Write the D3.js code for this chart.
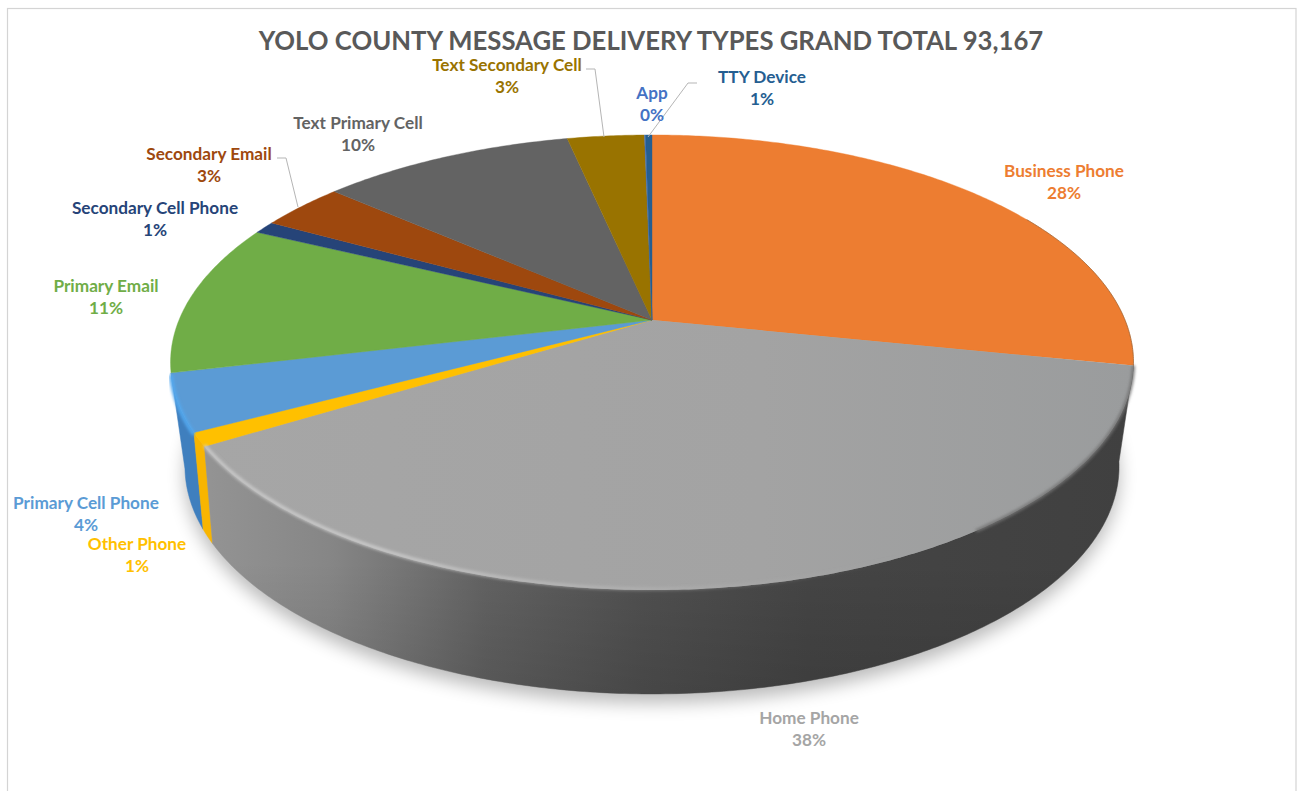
<!DOCTYPE html>
<html>
<head>
<meta charset="utf-8">
<script src="https://cdnjs.cloudflare.com/ajax/libs/d3/7.8.5/d3.min.js"></script>
<style>
  html, body { margin: 0; padding: 0; background: #fff; overflow: hidden; }
  text { font-family: Lato, "Open Sans", sans-serif; font-weight: 700; }
</style>
</head>
<body>
<svg id="chart"></svg>
<script>
const svgWidth = 1300;
const svgHeight = 791;

const chart_title = "YOLO COUNTY MESSAGE DELIVERY TYPES GRAND TOTAL 93,167";
const categories = ["Business Phone", "Home Phone", "Other Phone", "Primary Cell Phone", "Primary Email",
    "Secondary Cell Phone", "Secondary Email", "Text Primary Cell", "Text Secondary Cell", "App", "TTY Device"];
// slice shares, printed labels are what the chart says
const shares = [28.2, 38.1, 0.95, 4.05, 10.8, 0.9, 3.4, 10.2, 3.1, 0.04, 0.26];
const pct_labels = ["28%", "38%", "1%", "4%", "11%", "1%", "3%", "10%", "3%", "0%", "1%"];
const colors = ["#ED7D31", "#A5A5A5", "#FFC000", "#5B9BD5", "#70AD47",
    "#264478", "#9E480E", "#636363", "#997300", "#4472C4", "#255E91"];

// where each label sits: center x, first baseline
const label_pos = [[1064, 177], [809, 724], [137, 550], [86, 509], [106, 292],
    [155, 214], [209, 160], [358, 129], [507, 71], [652, 99], [762, 83]];
const leaders = [
    [[277, 158], [286, 158], [298, 207]],
    [[586, 69], [595, 69], [604, 137]],
    [[697, 83], [688, 83], [648, 137]]
];

// perspective circle for top face and for the bottom rim
const top_rim = { cx: 652, cy: 320, R: 473, b: 219.6, k: 0.1868 };
const bottom_rim = { cx: 652, cy: 416.4, R: 455.6, b: 216.5, k: 0.22 };

let project = (rim, a) => {
    let x = Math.sin(a), y = -Math.cos(a);
    let s = 1 / (1 - rim.k * y);
    return [rim.cx + rim.R * x * s, rim.cy + rim.b * y * s];
};

let arcPoints = (rim, a0, a1) => {
    let n = Math.max(2, Math.ceil(Math.abs(a1 - a0) / 0.01));
    return d3.range(n + 1).map(i => project(rim, a0 + (a1 - a0) * i / n));
};

const line = d3.line();
const deg = Math.PI / 180;

const svg = d3.select('#chart').attr('width', svgWidth).attr('height', svgHeight)
    .style('display', 'block');
const defs = svg.append('defs');

defs.append('filter').attr('id', 'shadow').attr('x', '-10%').attr('y', '-10%').attr('width', '120%').attr('height', '120%')
    .append('feGaussianBlur').attr('stdDeviation', 9);
defs.append('filter').attr('id', 'soft').attr('x', '-5%').attr('y', '-5%').attr('width', '110%').attr('height', '110%')
    .append('feGaussianBlur').attr('stdDeviation', 1.4);
defs.append('filter').attr('id', 'edge').attr('x', '-5%').attr('y', '-5%').attr('width', '110%').attr('height', '110%')
    .append('feGaussianBlur').attr('stdDeviation', 0.4);

let hGradient = (id, x1, x2, stops) => {
    let g = defs.append('linearGradient').attr('id', id).attr('gradientUnits', 'userSpaceOnUse')
        .attr('x1', x1).attr('x2', x2).attr('y1', 0).attr('y2', 0);
    stops.forEach(s => g.append('stop').attr('offset', s[0]).attr('stop-color', s[1]).attr('stop-opacity', s[2] === undefined ? 1 : s[2]));
};
hGradient('homeWall', 210, 1130, [[0, '#939393'], [0.13, '#868686'], [0.3, '#626262'], [0.47, '#505050'], [0.65, '#454545'], [1, '#404040']]);
hGradient('homeTop', 200, 1134, [[0, '#a6a6a6'], [0.6, '#a3a3a3'], [1, '#9a9c9d']]);
hGradient('homeLight', 205, 900, [[0, '#d0d0d0', 0.8], [0.25, '#d4d4d4', 0.8], [0.6, '#c0c0c0', 0.45], [1, '#a5a5a5', 0]]);

svg.append('rect').attr('x', 7.5).attr('y', 8.5).attr('width', 1288.5).attr('height', 800)
    .attr('fill', '#fff').attr('stroke', '#d4d4d4').attr('stroke-width', 1.2);

const pie = d3.pie().sort(null).value(d => d)(shares);

// soft shadow under the disc
svg.append('path')
    .attr('d', line(arcPoints(bottom_rim, 0, 2 * Math.PI)) + 'Z')
    .attr('transform', 'translate(0,9)')
    .attr('fill', '#000').attr('opacity', 0.27)
    .attr('filter', 'url(#shadow)');

// side wall: only the front slices show
const wall_fill = { 1: 'url(#homeWall)', 2: '#F8B500', 3: '#3F7FBE' };
[3, 2, 1].forEach(i => {
    let a0 = pie[i].startAngle, a1 = pie[i].endAngle;
    let pts = arcPoints(top_rim, a0, a1).concat(arcPoints(bottom_rim, a1, a0));
    svg.append('path').attr('d', line(pts) + 'Z').attr('fill', wall_fill[i])
        .attr('stroke', wall_fill[i]).attr('stroke-width', 0.5);
});

// wall darkening towards the bottom rim
let wallBottom = arcPoints(top_rim, pie[1].startAngle, pie[1].endAngle).concat(arcPoints(bottom_rim, pie[1].endAngle, pie[1].startAngle));
defs.append('linearGradient').attr('id', 'wallShade').attr('x1', 0).attr('x2', 0).attr('y1', 0).attr('y2', 1)
    .selectAll('stop').data([[0.6, 0], [1, 0.12]]).enter().append('stop')
    .attr('offset', d => d[0]).attr('stop-color', '#000').attr('stop-opacity', d => d[1]);
svg.append('path').attr('d', line(wallBottom) + 'Z').attr('fill', 'url(#wallShade)');

// top face
svg.append('g').selectAll('path').data(pie).enter().append('path')
    .attr('d', d => line([[top_rim.cx, top_rim.cy]].concat(arcPoints(top_rim, d.startAngle, d.endAngle))) + 'Z')
    .attr('fill', (d, i) => i == 1 ? 'url(#homeTop)' : colors[i])
    .attr('stroke', (d, i) => i == 1 ? 'none' : colors[i])
    .attr('stroke-width', 0.4);

// bevel lights along the front rim
svg.append('path')
    .attr('d', line(arcPoints(top_rim, pie[3].startAngle, pie[3].endAngle).map(p => [p[0], p[1] + 2])))
    .attr('fill', 'none').attr('stroke', '#53A8EE').attr('stroke-width', 4).attr('filter', 'url(#soft)');
svg.append('path')
    .attr('d', line(arcPoints(top_rim, pie[1].startAngle + 0.45, pie[1].endAngle).map(p => [p[0], p[1] - 1])))
    .attr('fill', 'none').attr('stroke', 'url(#homeLight)').attr('stroke-width', 3.5).attr('filter', 'url(#soft)');
// blurred seam between top face and the dark wall on the right
svg.append('path')
    .attr('d', line(arcPoints(top_rim, pie[1].startAngle, pie[1].startAngle + 0.75)))
    .attr('fill', 'none').attr('stroke', '#737373').attr('stroke-width', 3).attr('filter', 'url(#soft)');

// thin dark line on the right side of the rim
svg.append('path')
    .attr('d', line(arcPoints(top_rim, 60 * deg, pie[0].endAngle)))
    .attr('fill', 'none').attr('stroke', '#8a5a30').attr('stroke-width', 1).attr('opacity', 0.6).attr('filter', 'url(#edge)');

// leader lines
svg.append('g').selectAll('path').data(leaders).enter().append('path')
    .attr('d', d => line(d))
    .attr('fill', 'none').attr('stroke', '#b5b5b5').attr('stroke-width', 1);

// title
svg.append('text')
    .attr('x', 651).attr('y', 50)
    .attr('text-anchor', 'middle')
    .attr('font-size', 25.7)
    .attr('fill', '#595959')
    .text(chart_title);

// labels
let labels = svg.append('g').selectAll('text').data(categories).enter().append('text')
    .attr('text-anchor', 'middle')
    .attr('font-size', 17.2)
    .attr('fill', (d, i) => colors[i]);
labels.append('tspan')
    .attr('x', (d, i) => label_pos[i][0]).attr('y', (d, i) => label_pos[i][1])
    .text(d => d);
labels.append('tspan')
    .attr('x', (d, i) => label_pos[i][0]).attr('y', (d, i) => label_pos[i][1] + 22)
    .text((d, i) => pct_labels[i]);
</script>
</body>
</html>
